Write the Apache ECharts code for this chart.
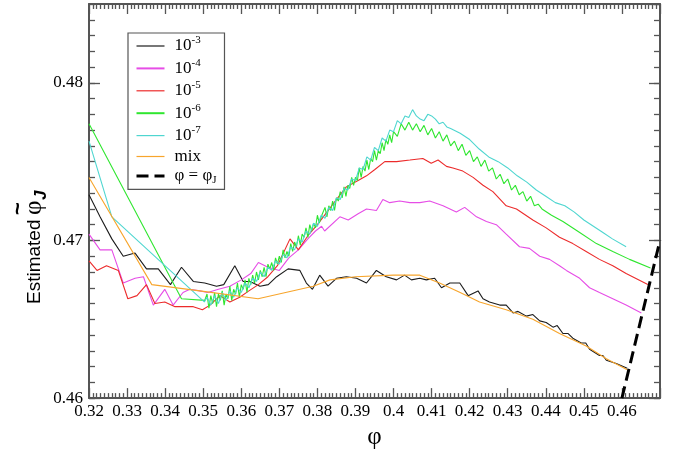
<!DOCTYPE html>
<html><head><meta charset="utf-8">
<script src="https://cdn.jsdelivr.net/npm/echarts@6/dist/echarts.min.js"></script>
<style>html,body{margin:0;padding:0;background:#fff}#c{width:678px;height:455px}</style>
</head><body><div id="c"></div>
<script>
// ---- axis ranges / ticks ----
const xRange = [0.32, 0.47];
const yRange = [0.46, 0.485];
const xMajor = 0.01;
const yMajor = 0.01;
const yMinor = 0.001;

// ---- series names and legend labels ----
const seriesNames = ['1e-3', '1e-4', '1e-5', '1e-6', '1e-7', 'mix', 'phiJ'];
const legendLabels = ['10{sup|-3}', '10{sup|-4}', '10{sup|-5}', '10{sup|-6}', '10{sup|-7}', 'mix', 'φ = φ{sub|J}'];
const colors = ['#1c1c1c', '#e64de6', '#ec2b2b', '#2fe62f', '#4fd6d0', '#f7a52c', '#000000'];

// ---- data ----
const black = [[0.32,.4729],[0.3229,.4715],[0.326,.4701],[0.329,.4690],[0.3321,.4692],[0.3351,.4682],[0.3382,.4682],[0.3414,.4672],[0.3443,.4683],[0.3474,.4674],[0.3504,.4673],[0.3535,.4671],[0.3554,.4672],[0.3583,.4684],[0.3605,.4674],[0.3623,.4674],[0.3649,.4671],[0.3671,.4672],[0.3693,.4677],[0.3723,.4682],[0.3754,.4681],[0.3771,.4673],[0.3787,.4669],[0.3806,.4678],[0.3828,.4671],[0.385,.4676],[0.3876,.4677],[0.3903,.4676],[0.3929,.4673],[0.3955,.4681],[0.3981,.4677],[0.4008,.4675],[0.4029,.4678],[0.4047,.4675],[0.4069,.4676],[0.4086,.4675],[0.4108,.4676],[0.4126,.4670],[0.4148,.4673],[0.4174,.4673],[0.4196,.4665],[0.4222,.4668],[0.4235,.4663],[0.4252,.4661],[0.4279,.4659],[0.4296,.4659],[0.4314,.4654],[0.4327,.4655],[0.4349,.4652],[0.4366,.4653],[0.4384,.4649],[0.4401,.4648],[0.4419,.4645],[0.443,.4646],[0.4445,.4641],[0.4458,.4641],[0.4471,.4638],[0.4493,.4635],[0.4505,.4635],[0.4515,.4631],[0.4541,.4627],[0.455,.4627],[0.4559,.4624],[0.4585,.4622],[0.4614,.4619]];

const magenta = [[0.32,.4704],[0.3229,.4694],[0.326,.4694],[0.329,.4673],[0.3321,.4676],[0.3343,.4677],[0.3369,.4659],[0.3399,.4669],[0.3421,.4659],[0.3447,.4667],[0.3465,.4669],[0.3491,.4668],[0.3512,.4667],[0.354,.4669],[0.357,.4671],[0.360,.4675],[0.3625,.4679],[0.3645,.4686],[0.367,.4683],[0.370,.4681],[0.3725,.4689],[0.375,.4694],[0.3775,.4701],[0.3795,.4706],[0.3811,.4709],[0.3819,.4706],[0.3859,.4715],[0.3881,.4713],[0.3907,.4717],[0.3929,.4720],[0.3955,.4719],[0.3972,.4726],[0.399,.4724],[0.4016,.4725],[0.4043,.4724],[0.4069,.4724],[0.4095,.4725],[0.413,.4722],[0.4165,.4718],[0.4187,.4721],[0.4218,.4715],[0.4244,.4712],[0.427,.4710],[0.4296,.4704],[0.4331,.4696],[0.4357,.4695],[0.4384,.4690],[0.441,.4688],[0.4436,.4684],[0.4454,.4681],[0.4489,.4676],[0.4515,.4670],[0.4541,.4667],[0.4576,.4663],[0.4611,.4659],[0.4651,.4654]];

const red = [[0.32,.4687],[0.3221,.4681],[0.3246,.4684],[0.3277,.4681],[0.3302,.4663],[0.3326,.4665],[0.3351,.4672],[0.3373,.4660],[0.3399,.4661],[0.3426,.4658],[0.3447,.4658],[0.3474,.4658],[0.3498,.4656],[0.3518,.4659],[0.3544,.4665],[0.357,.4661],[0.3596,.4664],[0.362,.4668],[0.3645,.4672],[0.367,.4677],[0.3695,.4684],[0.3728,.4701],[0.375,.4694],[0.3775,.4703],[0.380,.4710],[0.3825,.4718],[0.385,.4726],[0.3876,.4734],[0.3907,.4738],[0.3929,.4741],[0.3951,.4745],[0.3977,.4750],[0.4008,.4750],[0.4043,.4751],[0.4077,.4752],[0.4099,.4749],[0.4117,.4751],[0.4139,.4747],[0.4156,.4746],[0.4182,.4744],[0.4209,.4740],[0.4235,.4735],[0.4261,.4731],[0.4296,.4722],[0.4323,.4720],[0.4366,.4713],[0.4401,.4708],[0.4436,.4702],[0.4471,.4698],[0.4506,.4693],[0.4541,.4688],[0.4576,.4684],[0.4611,.4679],[0.4668,.4672]];

const greenStart = [[0.32,.4774],[0.3443,.4663],[0.3504,.4662]];
const greenNoisy = [[0.3505,.4662],[0.3510,.4666],[0.3515,.4657],[0.3520,.4665],[0.3525,.4660],[0.3530,.4667],[0.3535,.4658],[0.3540,.4666],[0.3545,.4662],[0.3550,.4668],[0.3555,.4659],[0.3560,.4666],[0.3565,.4663],[0.3570,.4671],[0.3575,.4662],[0.3580,.4669],[0.3585,.4666],[0.3590,.4673],[0.3595,.4664],[0.3600,.4672],[0.3605,.4669],[0.3610,.4675],[0.3615,.4667],[0.3620,.4676],[0.3625,.4672],[0.3630,.4678],[0.3635,.4673],[0.3640,.4680],[0.3645,.4675],[0.3650,.4681],[0.3655,.4677],[0.3660,.4683],[0.3665,.4677],[0.3670,.4685],[0.3675,.4682],[0.3680,.4686],[0.3685,.4681],[0.3690,.4689],[0.3695,.4685],[0.3700,.4690],[0.3705,.4686],[0.3710,.4694],[0.3715,.4689],[0.3720,.4693],[0.3725,.4690],[0.3730,.4698],[0.3735,.4693],[0.3740,.4699],[0.3745,.4696],[0.3750,.4703],[0.3755,.4697],[0.3760,.4704],[0.3765,.4702],[0.3770,.4708],[0.3775,.4702],[0.3780,.4710],[0.3785,.4706],[0.3790,.4711],[0.3795,.4708],[0.3800,.4716],[0.3805,.4711],[0.3810,.4715],[0.3815,.4714],[0.3820,.4721],[0.3825,.4715],[0.3830,.4722],[0.3835,.4719],[0.3840,.4725],[0.3845,.4719],[0.3850,.4727],[0.3855,.4725],[0.3860,.4731],[0.3865,.4727],[0.3870,.4734],[0.3875,.4728],[0.3880,.4735],[0.3885,.4733],[0.3890,.4740],[0.3895,.4735],[0.3900,.4740],[0.3905,.4738],[0.3910,.4746],[0.3915,.4740],[0.3920,.4747],[0.3925,.4744],[0.3930,.4751],[0.3935,.4745],[0.3940,.4752],[0.3945,.4750],[0.3950,.4757],[0.3955,.4751],[0.3960,.4757],[0.3965,.4755],[0.3970,.4762],[0.3975,.4757],[0.3980,.4764],[0.3985,.4761],[0.3990,.4767],[0.3995,.4762],[0.400,.4769],[0.401,.4766],[0.402,.4774],[0.403,.4770],[0.404,.4775],[0.405,.4770],[0.406,.4774],[0.407,.4769],[0.408,.4773],[0.409,.4767],[0.410,.4771],[0.411,.4765],[0.412,.4769],[0.413,.4763],[0.414,.4767],[0.415,.4760],[0.416,.4763],[0.417,.4757],[0.418,.4761],[0.419,.4754],[0.420,.4757],[0.421,.4750],[0.422,.4753],[0.423,.4747],[0.424,.4751],[0.425,.4744],[0.426,.4746],[0.427,.4739],[0.428,.4742],[0.429,.4736],[0.430,.4739],[0.431,.4732],[0.432,.4735],[0.433,.4729],[0.434,.4731],[0.435,.4725],[0.436,.4728],[0.437,.4722],[0.438,.4723],[0.439,.4720]];
const greenEnd = [[0.4415,.4716],[0.4445,.4712],[0.4489,.4705],[0.4533,.4698],[0.4576,.4693],[0.462,.4688],[0.4675,.46825]];

const cyanStart = [[0.32,.4763],[0.326,.4715],[0.3503,.4661]];
const cyanNoisy = [[0.351,.4664],[0.352,.4659],[0.353,.4665],[0.354,.4660],[0.355,.4667],[0.356,.4662],[0.357,.4668],[0.358,.4664],[0.359,.4670],[0.360,.4667],[0.361,.4673],[0.362,.4670],[0.363,.4676],[0.364,.4674],[0.365,.4680],[0.366,.4677],[0.367,.4683],[0.368,.4681],[0.369,.4687],[0.370,.4685],[0.371,.4691],[0.372,.4689],[0.373,.4696],[0.374,.4694],[0.375,.4701],[0.376,.4699],[0.377,.4706],[0.378,.4704],[0.379,.4711],[0.380,.4709],[0.381,.4716],[0.382,.4714],[0.383,.4721],[0.384,.4719],[0.385,.4727],[0.386,.4726],[0.387,.4733],[0.388,.4732],[0.389,.4739],[0.390,.4738],[0.391,.4746],[0.392,.4745],[0.393,.4753],[0.394,.4751],[0.395,.4759],[0.396,.4757],[0.397,.4765],[0.398,.4763],[0.399,.4770],[0.400,.4769],[0.401,.4776],[0.402,.4774],[0.403,.4779],[0.404,.4778],[0.405,.4783],[0.406,.4779],[0.407,.4777],[0.408,.4776],[0.409,.4780],[0.410,.4779],[0.411,.4777],[0.412,.4774],[0.413,.4775],[0.414,.4772],[0.415,.4771]];
const cyanEnd = [[0.4175,.4768],[0.420,.4764],[0.4225,.4758],[0.425,.4753],[0.4275,.4750],[0.430,.4746],[0.4325,.4741],[0.435,.4737],[0.4375,.4732],[0.440,.4728],[0.4425,.4724],[0.445,.4722],[0.4475,.4718],[0.450,.4713],[0.4525,.4709],[0.455,.4705],[0.4575,.4701],[0.4611,.4696]];

const mix = [[0.32,.4740],[0.3365,.4672],[0.3491,.4668],[0.3644,.4663],[0.3789,.4671],[0.3833,.4675],[0.390,.4677],[0.400,.4678],[0.4069,.4678],[0.4121,.4673],[0.4175,.4667],[0.4226,.4661],[0.4296,.4656],[0.4366,.4650],[0.4436,.4641],[0.4506,.4633],[0.4559,.4625],[0.4614,.4618]];

const jamming = [[0.46,0.46],[0.47,0.47]];

// ---- build ----
const green = greenStart.concat(greenNoisy, greenEnd);
const cyan = cyanStart.concat(cyanNoisy, cyanEnd);
const allData = [black, magenta, red, green, cyan, mix, jamming];

const axisColor = '#555';
const tickLine = {color: axisColor, width: 1.3};
const serif = 'Liberation Serif';
const sans = 'Liberation Sans';

function xAx(pos, labels) {
  return {
    type: 'value', position: pos, min: xRange[0], max: xRange[1], interval: xMajor,
    axisLine: {show: true, onZero: false, lineStyle: {color: axisColor, width: 2}},
    axisTick: {show: true, inside: true, length: 10, lineStyle: tickLine},
    minorTick: {show: true, splitNumber: 10, length: 5, lineStyle: tickLine},
    splitLine: {show: false}, minorSplitLine: {show: false},
    axisLabel: {show: labels, fontFamily: serif, fontSize: 17, color: '#000', margin: 5, showMaxLabel: false},
    name: labels ? 'φ' : '', nameLocation: 'middle', nameGap: 22,
    nameTextStyle: {fontFamily: serif, fontSize: 25, color: '#000'}
  };
}
function yAx(pos, major, labels) {
  return {
    type: 'value', position: pos, min: yRange[0], max: yRange[1], interval: major ? yMajor : yMinor,
    axisLine: {show: major, onZero: false, lineStyle: {color: axisColor, width: 2}},
    axisTick: {show: true, inside: true, length: major ? 11 : 6, lineStyle: tickLine},
    splitLine: {show: false},
    axisLabel: {show: labels, fontFamily: serif, fontSize: 17, color: '#000', margin: 6, showMaxLabel: false}
  };
}

const series = allData.map((d, i) => ({
  name: seriesNames[i], type: 'line', data: d, showSymbol: false, symbol: 'none',
  clip: true, z: 2 + i,
  lineStyle: i === 6 ? {color: colors[i], width: 3, type: [12, 6]} : {color: colors[i], width: 1.1},
  itemStyle: {color: colors[i]},
  emphasis: {disabled: true}
}));

const legendData = seriesNames.map((n, i) => i === 6
  ? {name: n, lineStyle: {type: [12, 6], width: 3, color: '#000'}}
  : {name: n, lineStyle: {width: (i === 1 || i === 3) ? 2 : 1.2, color: colors[i]}});

// y-axis title as real text pieces (rotated)
const yTitle = {
  type: 'group', x: 44, y: 304, rotation: Math.PI / 2, silent: true,
  children: [
    {type: 'text', x: 0, y: 0, style: {text: 'Estimated', fontFamily: sans, fontSize: 19, fill: '#000', align: 'left', verticalAlign: 'bottom', textAlign: 'left', textVerticalAlign: 'bottom'}},
    {type: 'text', x: 89, y: 3, style: {text: 'φ', fontFamily: serif, fontSize: 25, fill: '#000', align: 'left', verticalAlign: 'bottom', textAlign: 'left', textVerticalAlign: 'bottom'}},
    {type: 'text', x: 89, y: -14, style: {text: '~', fontFamily: sans, fontSize: 22, fontWeight: 'bold', fill: '#000', align: 'left', verticalAlign: 'bottom', textAlign: 'left', textVerticalAlign: 'bottom'}},
    {type: 'text', x: 104, y: 6, style: {text: 'J', fontFamily: sans, fontSize: 17, fontStyle: 'italic', fontWeight: 'bold', fill: '#000', align: 'left', verticalAlign: 'bottom', textAlign: 'left', textVerticalAlign: 'bottom'}}
  ]
};

const chart = echarts.init(document.getElementById('c'), null, {renderer: 'canvas'});
chart.setOption({
  animation: false,
  backgroundColor: '#fff',
  grid: {left: 89, right: 18, top: 4, bottom: 51, containLabel: false},
  xAxis: [xAx('bottom', true), xAx('top', false)],
  yAxis: [yAx('left', true, true), yAx('left', false, false), yAx('right', true, false), yAx('right', false, false)],
  legend: {
    orient: 'vertical', left: 128, top: 33, padding: [2, 8, 4, 7],
    itemWidth: 28, itemHeight: 12, itemGap: 0.4,
    backgroundColor: '#fff', borderColor: '#555', borderWidth: 1.2,
    itemStyle: {opacity: 0, borderWidth: 0},
    data: legendData,
    formatter: n => legendLabels[seriesNames.indexOf(n)],
    textStyle: {
      fontFamily: serif, fontSize: 17, color: '#000', lineHeight: 19, padding: [0, 0, 0, 5],
      rich: {
        sup: {fontFamily: serif, fontSize: 11, color: '#000', lineHeight: 11, padding: [0, 0, 11, 0]},
        sub: {fontFamily: serif, fontSize: 11, color: '#000', lineHeight: 11, padding: [8, 0, 0, 0]}
      }
    },
    selectedMode: false
  },
  graphic: [yTitle],
  series: series
});
</script>
</body></html>
